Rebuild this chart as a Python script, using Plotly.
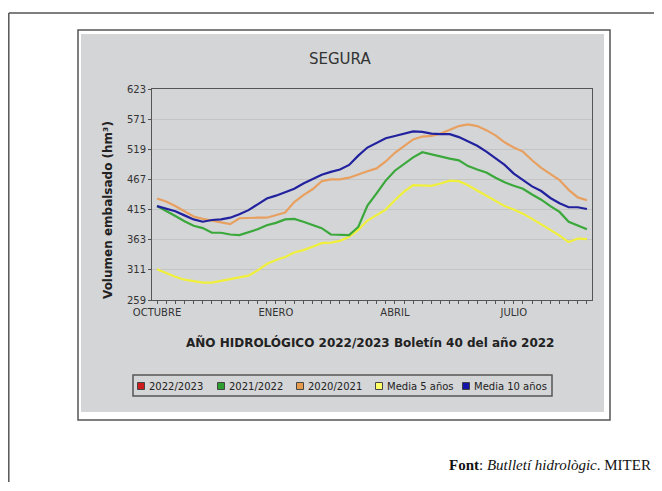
import plotly.graph_objects as go

weeks = list(range(48))
month_ticks = [0, 13, 26, 39]
month_labels = ["OCTUBRE", "ENERO", "ABRIL", "JULIO"]
y_ticks = [259, 311, 363, 415, 467, 519, 571, 623]

s_2021_2022 = [421, 413, 404, 395, 387, 383, 375, 375, 372, 371, 376, 381, 388, 392, 398, 399,
               394, 389, 383, 372, 371, 371, 385, 422, 443, 465, 482, 493, 505, 514, 510, 506,
               503, 500, 490, 484, 479, 470, 462, 456, 451, 441, 432, 421, 411, 394, 387, 381]
s_2020_2021 = [434, 429, 421, 412, 403, 399, 396, 394, 390, 400, 401, 401, 401, 405, 410, 428,
               440, 450, 464, 467, 467, 470, 476, 481, 486, 498, 513, 525, 536, 541, 542, 546,
               553, 559, 562, 559, 552, 543, 531, 522, 515, 500, 487, 477, 466, 449, 436, 431]
media_5 = [312, 305, 299, 294, 291, 289, 289, 292, 295, 297, 301, 310, 321, 328, 333, 341,
           345, 351, 357, 358, 361, 368, 380, 396, 405, 415, 431, 446, 457, 457, 456, 460,
           465, 464, 457, 448, 439, 430, 421, 415, 408, 399, 390, 380, 370, 359, 365, 364]
media_10 = [421, 417, 412, 405, 398, 394, 397, 398, 401, 407, 414, 424, 434, 439, 445, 451,
            460, 468, 475, 480, 484, 492, 508, 522, 530, 538, 542, 546, 550, 549, 546, 545,
            545, 540, 533, 525, 515, 504, 492, 477, 466, 455, 447, 435, 426, 419, 419, 416]

legend_names = ["2022/2023", "2021/2022", "2020/2021", "Media 5 años", "Media 10 años"]
legend_colors = ["#cc1c1c", "#2e9e2e", "#e59a4c", "#ffff66", "#1414a8"]

OFF = 8  # page body margin
W, H = 662 - OFF, 474
L, T = 152 - OFF, 89 - OFF
PW, PH = 440, 211
R, B = W - L - PW, H - T - PH


def px(x):
    return (x - OFF - L) / PW


def py(y):
    return (T + PH - (y - OFF)) / PH


fig = go.Figure()
series = [
    (media_5, "#f0f03c", "Media 5 años"),
    (s_2021_2022, "#3aa83a", "2021/2022"),
    (s_2020_2021, "#e8a060", "2020/2021"),
    (media_10, "#22229e", "Media 10 años"),
]
for ys, col, name in series:
    fig.add_trace(go.Scatter(x=weeks, y=ys, mode="lines", name=name,
                             line=dict(color=col, width=2.2), showlegend=False))

shapes = []
# outer frame
shapes.append(dict(type="line", xref="paper", yref="paper", x0=px(8.8), x1=px(670), y0=py(13), y1=py(13),
                   line=dict(color="#555555", width=1.5), layer="below"))
shapes.append(dict(type="line", xref="paper", yref="paper", x0=px(8.8), x1=px(8.8), y0=py(13), y1=py(500),
                   line=dict(color="#555555", width=1.5), layer="below"))
# panel border + gray panel
shapes.append(dict(type="rect", xref="paper", yref="paper", x0=px(78), x1=px(610), y0=py(420), y1=py(30),
                   line=dict(color="#555555", width=1.5), fillcolor="white", layer="below"))
shapes.append(dict(type="rect", xref="paper", yref="paper", x0=px(81), x1=px(604), y0=py(412), y1=py(34),
                   line=dict(width=0), fillcolor="#d4d5d7", layer="below"))
# legend box
shapes.append(dict(type="rect", xref="paper", yref="paper", x0=px(133), x1=px(552), y0=py(396), y1=py(375),
                   line=dict(color="#555555", width=1.5), fillcolor="#d4d5d7", layer="below"))

annotations = []
sq_x = [141, 221, 300, 379, 466]
for name, col, sx in zip(legend_names, legend_colors, sq_x):
    shapes.append(dict(type="rect", xref="paper", yref="paper", x0=px(sx - 3.5), x1=px(sx + 3.5),
                       y0=py(389.5), y1=py(382.5), line=dict(color="#444444", width=1),
                       fillcolor=col, layer="below"))
    annotations.append(dict(text=name, xref="paper", yref="paper", x=px(sx + 6), y=py(386),
                            xanchor="left", yanchor="middle", showarrow=False,
                            font=dict(family="DejaVu Sans", size=10, color="#222222")))

annotations.append(dict(text="SEGURA", xref="paper", yref="paper", x=px(340), y=py(59),
                        xanchor="center", yanchor="middle", showarrow=False,
                        font=dict(family="DejaVu Sans", size=15, color="#333333")))
annotations.append(dict(text="<b>AÑO HIDROLÓGICO 2022/2023 Boletín 40 del año 2022</b>",
                        xref="paper", yref="paper", x=px(370), y=py(342),
                        xanchor="center", yanchor="middle", showarrow=False,
                        font=dict(family="DejaVu Sans", size=12, color="#222222")))
annotations.append(dict(text="<b>Volumen embalsado (hm³)</b>", xref="paper", yref="paper",
                        x=px(108), y=py(210), xanchor="center", yanchor="middle",
                        textangle=-90, showarrow=False,
                        font=dict(family="DejaVu Sans", size=12, color="#222222")))
annotations.append(dict(text="<b>Font</b>: <i>Butlletí hidrològic</i>. MITER", xref="paper", yref="paper",
                        x=px(447), y=py(465), xanchor="left", yanchor="middle", showarrow=False,
                        font=dict(family="Liberation Serif", size=15, color="#111111")))

fig.update_layout(
    width=W, height=H,
    margin=dict(l=L, r=R, t=T, b=B, pad=0),
    paper_bgcolor="white", plot_bgcolor="white",
    showlegend=False,
    shapes=shapes, annotations=annotations,
    xaxis=dict(range=[-0.55, 47.55], tickmode="array", tickvals=month_ticks, ticktext=month_labels,
               ticks="outside", ticklen=3, tickcolor="#555555", showgrid=False, zeroline=False,
               showline=True, linecolor="#555555", linewidth=1, mirror=True,
               tickfont=dict(family="DejaVu Sans", size=10, color="#333333"),
               minor=dict(tickmode="linear", tick0=0, dtick=1, ticks="outside", ticklen=3,
                          tickcolor="#555555", showgrid=False)),
    yaxis=dict(range=[259, 623], tickmode="array", tickvals=y_ticks,
               ticks="outside", ticklen=3, tickcolor="#555555",
               showgrid=True, gridcolor="#c4c4c4", gridwidth=1, zeroline=False,
               showline=True, linecolor="#555555", linewidth=1, mirror=True,
               tickfont=dict(family="DejaVu Sans", size=10, color="#333333")),
)

fig.write_html("out.html")
